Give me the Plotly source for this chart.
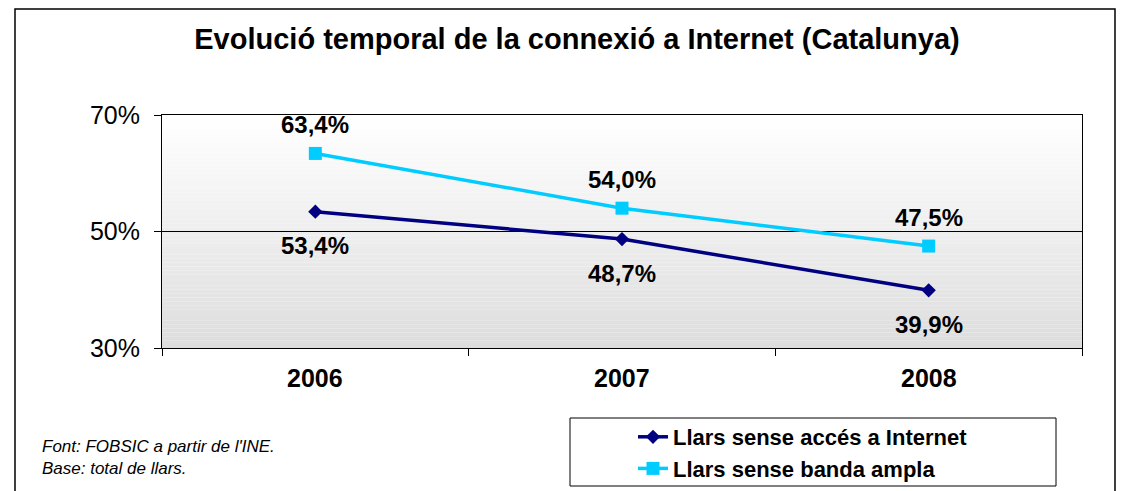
import plotly.graph_objects as go

# Data
years = ["2006", "2007", "2008"]
sense_acces = [53.4, 48.7, 39.9]
sense_banda = [63.4, 54.0, 47.5]
series_names = ["Llars sense accés a Internet", "Llars sense banda ampla"]

FONT = "Arial, Liberation Sans, sans-serif"
W, H = 1124, 491
OFF = 8  # page margin around the figure div

# plot area in page pixels: x 162..1082, y 115..348
L, T = 162 - OFF, 115 - OFF
R, B = W - (1082 - OFF), H - (348 - OFF)
PW, PH = W - L - R, H - T - B


def px_x(p):
    # page pixel -> paper x
    return (p - OFF - L) / PW


def px_y(p):
    # page pixel -> paper y
    return (H - B - (p - OFF)) / PH


def cx(p):
    return (p - OFF) / W


def cy(p):
    return 1 - (p - OFF) / H


def fmt(v):
    return f"{v:.1f}%".replace(".", ",")


fig = go.Figure()

fig.add_trace(go.Scatter(
    x=years, y=sense_acces, name=series_names[0], mode="lines+markers",
    line=dict(color="#000080", width=3.5),
    marker=dict(symbol="diamond", size=11, color="#000080"),
))
fig.add_trace(go.Scatter(
    x=years, y=sense_banda, name=series_names[1], mode="lines+markers",
    line=dict(color="#00CCFF", width=3.5),
    marker=dict(symbol="square", size=13, color="#00CCFF"),
))

# data labels (category axis -> use the category index)
for i, v in enumerate(sense_acces):
    fig.add_annotation(x=i, y=v, text="<b>" + fmt(v) + "</b>", showarrow=False, yshift=-34,
                       font=dict(family=FONT, size=24, color="black"))
for i, v in enumerate(sense_banda):
    fig.add_annotation(x=i, y=v, text="<b>" + fmt(v) + "</b>", showarrow=False, yshift=29,
                       font=dict(family=FONT, size=24, color="black"))

# category labels
for i, yr in enumerate(years):
    fig.add_annotation(x=i, xref="x", y=0, yref="paper", yanchor="middle", yshift=-30,
                       text="<b>" + yr + "</b>", showarrow=False,
                       font=dict(family=FONT, size=25, color="black"))

# gradient background of the plot area
n = 60
for k in range(n):
    t = k / (n - 1)
    g = int(round(255 - (255 - 221) * t))
    fig.add_shape(type="rect", xref="x domain", yref="y domain",
                  x0=0, x1=1, y0=1 - (k + 1) / n, y1=1 - k / n,
                  fillcolor=f"rgb({g},{g},{g})", line=dict(width=0), layer="below")

# outer chart border
fig.add_shape(type="rect", xref="paper", yref="paper",
              x0=px_x(15), x1=px_x(1115), y0=px_y(505), y1=px_y(9),
              line=dict(color="black", width=1.5), fillcolor="rgba(0,0,0,0)")

# legend box
fig.add_shape(type="rect", xref="paper", yref="paper",
              x0=px_x(570), x1=px_x(1056), y0=px_y(486), y1=px_y(418),
              line=dict(color="black", width=1), fillcolor="white")

# footnote
fig.add_annotation(xref="paper", yref="paper", x=px_x(40), y=px_y(457),
                   xanchor="left", yanchor="middle", showarrow=False, align="left",
                   text="<i>Font: FOBSIC a partir de l'INE.<br>Base: total de llars.</i>",
                   font=dict(family=FONT, size=17, color="black"))

fig.update_layout(
    width=W, height=H,
    margin=dict(l=L, r=R, t=T, b=B, autoexpand=False),
    paper_bgcolor="white", plot_bgcolor="rgba(0,0,0,0)",
    font=dict(family=FONT, color="black"),
    title=dict(text="<b>Evolució temporal de la connexió a Internet (Catalunya)</b>",
               x=cx(577), xref="container", xanchor="center",
               y=cy(39), yref="container", yanchor="middle",
               font=dict(family=FONT, size=29, color="black")),
    showlegend=True,
    legend=dict(x=cx(633), y=cy(416), xref="container", yref="container",
                xanchor="left", yanchor="top",
                bgcolor="rgba(0,0,0,0)", borderwidth=0,
                font=dict(family=FONT, size=22, color="black", weight="bold"),
                tracegroupgap=0),
)

fig.update_xaxes(
    type="category", range=[-0.5, 2.5], automargin=False, showline=True,
    linecolor="black", linewidth=1, mirror=True, showgrid=False,
    ticks="outside", tickson="boundaries", ticklen=7, tickcolor="black",
    showticklabels=False,
)
fig.update_yaxes(
    range=[30, 70], tick0=30, dtick=20, ticksuffix="%", automargin=False,
    showline=True, linecolor="black", linewidth=1, mirror=True, showgrid=True,
    gridcolor="black", gridwidth=1, zeroline=False, ticks="outside", ticklen=7,
    tickcolor="black", ticklabelstandoff=9,
    tickfont=dict(family=FONT, size=25, color="black"),
)

fig.write_html("out.html")
